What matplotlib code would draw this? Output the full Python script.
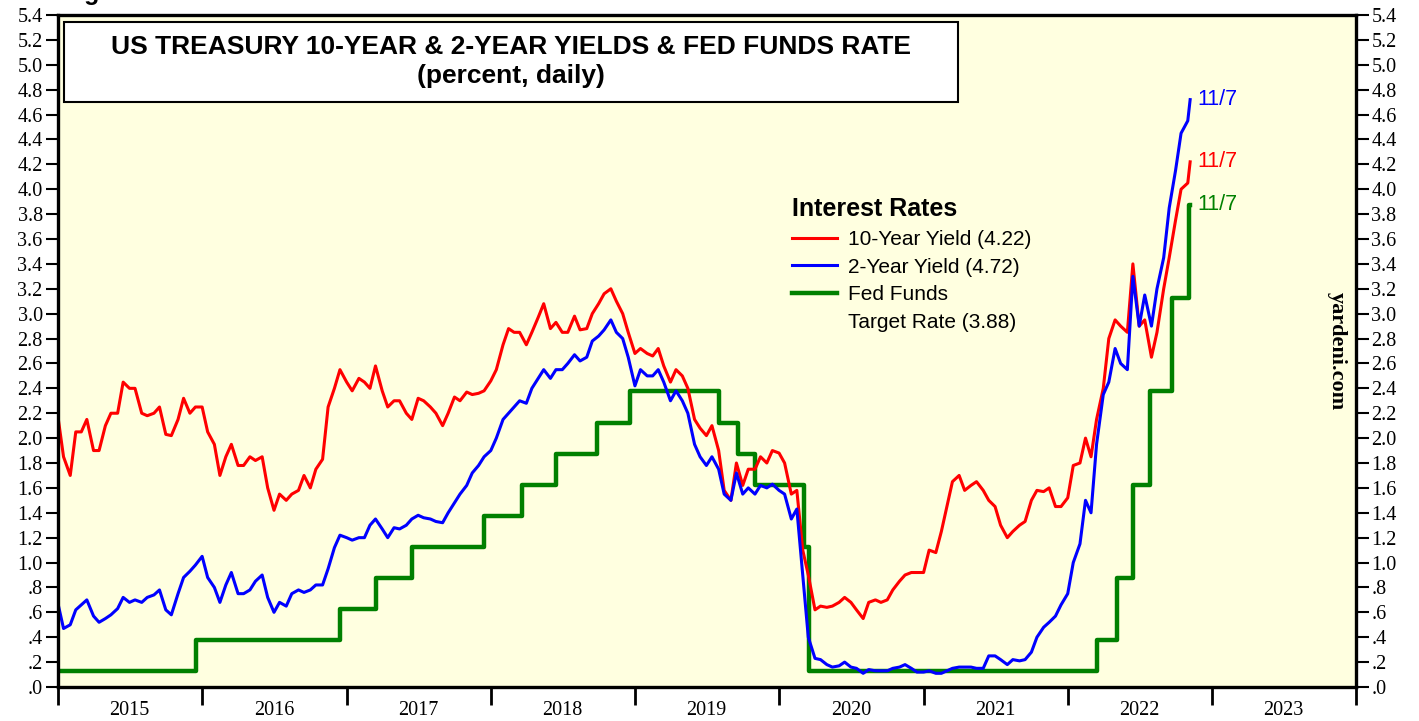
import numpy as np
import pandas as pd
import matplotlib
matplotlib.use('Agg')
import matplotlib.pyplot as plt
import matplotlib.dates as mdates
from matplotlib.lines import Line2D
from matplotlib.patches import Rectangle
from matplotlib.ticker import FuncFormatter, MultipleLocator

plt.rcParams['font.family'] = 'Liberation Serif'
SANS = 'Liberation Sans'

# Данные: полумесячные точки (1 и 15 числа), последняя точка 7 ноября 2022
dates = list(pd.date_range('2015-01-01', '2022-11-01', freq='SMS')) + [pd.Timestamp('2022-11-07')]

ten_2015 = [2.17, 1.85, 1.70, 2.05, 2.05, 2.15, 1.90, 1.90, 2.10, 2.20, 2.20, 2.45,
            2.40, 2.40, 2.20, 2.18, 2.20, 2.25, 2.03, 2.02, 2.15, 2.32, 2.20, 2.25]
ten_2016 = [2.25, 2.05, 1.95, 1.70, 1.85, 1.95, 1.78, 1.78, 1.85, 1.82, 1.85, 1.60,
            1.42, 1.55, 1.50, 1.55, 1.58, 1.70, 1.60, 1.75, 1.83, 2.25, 2.40, 2.55]
ten_2017 = [2.45, 2.38, 2.48, 2.45, 2.40, 2.58, 2.38, 2.25, 2.30, 2.30, 2.20, 2.15,
            2.32, 2.30, 2.25, 2.20, 2.10, 2.20, 2.33, 2.30, 2.37, 2.35, 2.36, 2.38]
ten_2018 = [2.46, 2.55, 2.75, 2.88, 2.85, 2.85, 2.75, 2.85, 2.97, 3.08, 2.88, 2.93,
            2.85, 2.85, 2.98, 2.87, 2.88, 3.00, 3.08, 3.16, 3.20, 3.10, 3.00, 2.85]
ten_2019 = [2.68, 2.72, 2.68, 2.66, 2.72, 2.58, 2.45, 2.55, 2.50, 2.40, 2.15, 2.08,
            2.02, 2.10, 1.90, 1.58, 1.50, 1.80, 1.62, 1.75, 1.75, 1.85, 1.80, 1.90]
ten_2020 = [1.88, 1.80, 1.55, 1.58, 1.10, 0.90, 0.62, 0.65, 0.64, 0.65, 0.68, 0.72,
            0.68, 0.62, 0.55, 0.68, 0.70, 0.68, 0.70, 0.78, 0.85, 0.90, 0.92, 0.92]
ten_2021 = [0.92, 1.10, 1.08, 1.25, 1.45, 1.65, 1.70, 1.58, 1.62, 1.65, 1.58, 1.50,
            1.45, 1.30, 1.20, 1.25, 1.30, 1.33, 1.50, 1.58, 1.57, 1.60, 1.45, 1.45]
ten_2022 = [1.52, 1.78, 1.80, 2.00, 1.85, 2.15, 2.40, 2.80, 2.95, 2.90, 2.85, 3.40,
            2.90, 2.95, 2.65, 2.85, 3.20, 3.45, 3.75, 4.00, 4.05, 4.22]

two_2015 = [0.67, 0.47, 0.50, 0.62, 0.66, 0.70, 0.57, 0.52, 0.55, 0.58, 0.63, 0.72,
            0.68, 0.70, 0.68, 0.72, 0.74, 0.78, 0.62, 0.58, 0.75, 0.88, 0.93, 0.98]
two_2016 = [1.05, 0.88, 0.80, 0.68, 0.82, 0.92, 0.75, 0.75, 0.78, 0.85, 0.90, 0.72,
            0.60, 0.68, 0.65, 0.75, 0.78, 0.76, 0.78, 0.82, 0.82, 0.95, 1.12, 1.22]
two_2017 = [1.20, 1.18, 1.20, 1.20, 1.30, 1.35, 1.27, 1.20, 1.28, 1.27, 1.30, 1.35,
            1.38, 1.36, 1.35, 1.33, 1.32, 1.40, 1.48, 1.55, 1.62, 1.72, 1.78, 1.85]
two_2018 = [1.90, 2.00, 2.15, 2.20, 2.25, 2.30, 2.28, 2.40, 2.48, 2.55, 2.48, 2.55,
            2.55, 2.60, 2.67, 2.62, 2.65, 2.78, 2.82, 2.87, 2.95, 2.85, 2.80, 2.65]
two_2019 = [2.42, 2.55, 2.50, 2.50, 2.55, 2.45, 2.30, 2.38, 2.30, 2.20, 1.95, 1.85,
            1.78, 1.85, 1.75, 1.55, 1.50, 1.72, 1.55, 1.60, 1.55, 1.62, 1.60, 1.63]
two_2020 = [1.58, 1.55, 1.35, 1.43, 0.90, 0.40, 0.23, 0.22, 0.18, 0.16, 0.17, 0.20,
            0.16, 0.15, 0.11, 0.14, 0.13, 0.13, 0.13, 0.15, 0.16, 0.18, 0.15, 0.12]
two_2021 = [0.12, 0.13, 0.11, 0.11, 0.13, 0.15, 0.16, 0.16, 0.16, 0.15, 0.15, 0.25,
            0.25, 0.22, 0.18, 0.22, 0.21, 0.22, 0.28, 0.40, 0.48, 0.52, 0.57, 0.66]
two_2022 = [0.75, 1.00, 1.15, 1.50, 1.40, 1.95, 2.35, 2.45, 2.72, 2.60, 2.55, 3.30,
            2.90, 3.15, 2.90, 3.20, 3.45, 3.85, 4.15, 4.45, 4.55, 4.72]

ten_year = ten_2015 + ten_2016 + ten_2017 + ten_2018 + ten_2019 + ten_2020 + ten_2021 + ten_2022
two_year = two_2015 + two_2016 + two_2017 + two_2018 + two_2019 + two_2020 + two_2021 + two_2022

fed_dates = pd.to_datetime(['2015-01-01', '2015-12-17', '2016-12-15', '2017-03-16', '2017-06-15',
                            '2017-12-14', '2018-03-22', '2018-06-14', '2018-09-27', '2018-12-20',
                            '2019-08-01', '2019-09-19', '2019-10-31', '2020-03-04', '2020-03-16',
                            '2022-03-17', '2022-05-05', '2022-06-16', '2022-07-28', '2022-09-22',
                            '2022-11-03', '2022-11-07'])
fed_vals = [0.125, 0.375, 0.625, 0.875, 1.125, 1.375, 1.625, 1.875, 2.125, 2.375,
            2.125, 1.875, 1.625, 1.125, 0.125, 0.375, 0.875, 1.625, 2.375, 3.125,
            3.875, 3.875]

fig = plt.figure(figsize=(14.19, 7.21), dpi=100)
ax = fig.add_axes([58 / 1419, 1 - 687 / 721, 1298 / 1419, 672 / 721])
ax.set_facecolor('#ffffe0')

ax.step(fed_dates, fed_vals, where='post', color='#008000', lw=3.2)
ax.plot(dates, ten_year, color='#ff0000', lw=2.2)
ax.plot(dates, two_year, color='#0000ff', lw=2.2)

ax.set_xlim(pd.Timestamp('2015-01-01'), pd.Timestamp('2024-01-01'))
ax.set_ylim(0, 5.4)

# Оси
ax.yaxis.set_major_locator(MultipleLocator(0.2))
ax.yaxis.set_major_formatter(FuncFormatter(lambda v, p: f"{v:.1f}".lstrip('0') if v < 0.95 else f"{v:.1f}"))
ax.tick_params(axis='y', direction='out', length=9, width=1.5, left=True, right=True,
               labelleft=True, labelright=True, labelsize=14.5, pad=2)
ax.xaxis.set_major_locator(mdates.YearLocator())
ax.xaxis.set_major_formatter(plt.NullFormatter())
ax.xaxis.set_minor_locator(mdates.YearLocator(month=7))
ax.xaxis.set_minor_formatter(mdates.DateFormatter('%Y'))
ax.tick_params(axis='x', which='major', direction='out', length=13, width=2)
ax.tick_params(axis='x', which='minor', length=0, labelsize=14.5, pad=10)
for s in ax.spines.values():
    s.set_linewidth(2.4)

# Заголовок в рамке
ax.add_patch(Rectangle((0.0046, 0.8705), 0.6888, 0.1191, transform=ax.transAxes,
                       facecolor='white', edgecolor='black', lw=1.5, zorder=5))
ax.text(0.349, 0.952, 'US TREASURY 10-YEAR & 2-YEAR YIELDS & FED FUNDS RATE', transform=ax.transAxes,
        ha='center', va='center', fontsize=19, fontweight='bold', family=SANS, zorder=6)
ax.text(0.349, 0.909, '(percent, daily)', transform=ax.transAxes,
        ha='center', va='center', fontsize=19, fontweight='bold', family=SANS, zorder=6)

# Легенда
handles = [Line2D([], [], color='#ff0000', lw=2.2),
           Line2D([], [], color='#0000ff', lw=2.2),
           Line2D([], [], color='#008000', lw=3.2),
           Line2D([], [], color='none')]
labels = ['10-Year Yield (4.22)', '2-Year Yield (4.72)', 'Fed Funds', 'Target Rate (3.88)']
leg = ax.legend(handles, labels, loc='upper left', bbox_to_anchor=(0.5655, 0.729), frameon=False,
                title='Interest Rates', alignment='left', borderpad=0, borderaxespad=0,
                handlelength=2.15, handletextpad=0.55, labelspacing=0.42,
                prop={'family': SANS, 'size': 15},
                title_fontproperties={'family': SANS, 'size': 18, 'weight': 'bold'})

# Подписи последних значений
for y_val, xd, col in [(two_year[-1], dates[-1], '#0000ff'), (ten_year[-1], dates[-1], '#ff0000'),
                       (fed_vals[-1], fed_dates[-1], '#008000')]:
    ax.annotate('11/7', xy=(xd, y_val), xytext=(5, 0), textcoords='offset points',
                color=col, fontsize=15.5, family=SANS, va='center', ha='left')

ax.text(0.985, 0.5, 'yardeni.com', transform=ax.transAxes, rotation=270, ha='center', va='center',
        fontsize=16, fontweight='bold')
fig.text(62 / 1419, 1.0, 'Figure 1.', fontsize=18, fontweight='bold', family=SANS,
         va='baseline', ha='left')

fig.savefig('out.png', dpi=100)
